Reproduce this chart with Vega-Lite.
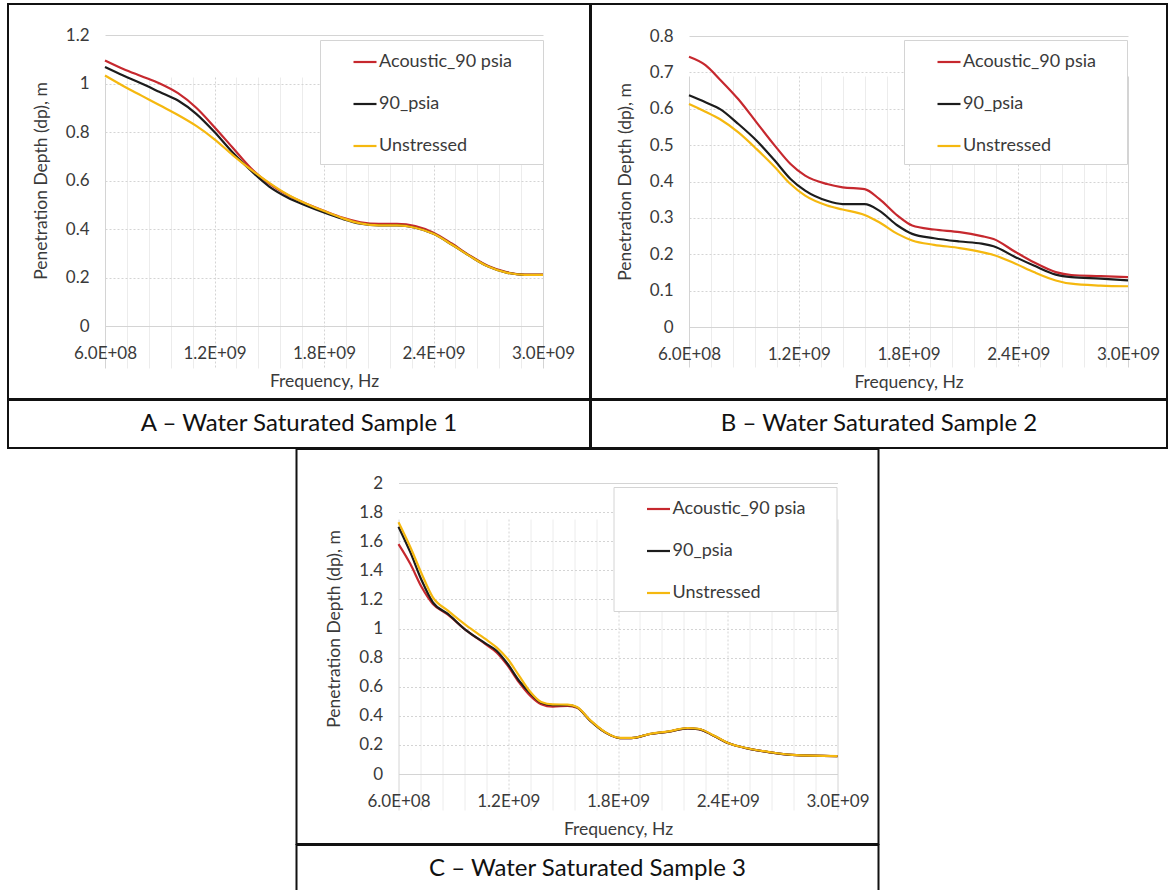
{
  "$schema": "https://vega.github.io/schema/vega-lite/v6.json",
  "background": "white",
  "padding": {"left": 7, "top": 3, "right": 0, "bottom": 0},
  "center": true,
  "spacing": -2,
  "resolve": {"scale": {"color": "independent"}, "legend": {"color": "independent"}},
  "config": {
    "font": "Lato",
    "view": {"stroke": "#111111", "strokeWidth": 2},
    "axis": {
      "labelFont": "Lato", "titleFont": "Lato",
      "labelFontSize": 17, "titleFontSize": 17.5, "titleFontWeight": "normal",
      "labelColor": "#3a3a3a", "titleColor": "#3a3a3a",
      "ticks": false, "domain": false, "grid": true,
      "labelOverlap": false, "labelFlush": false
    },
    "legend": {
      "labelFont": "Lato", "labelColor": "#3a3a3a", "labelFontSize": 18,
      "title": null, "orient": "none", "strokeColor": "#d4d4d4", "fillColor": "white",
      "padding": 9, "rowPadding": 20, "labelOffset": 24,
      "symbolType": "M1,0L3,0M16.3,0", "symbolSize": 529, "symbolStrokeWidth": 2.2
    },
    "text": {"font": "Lato"}
  },
  "datasets": {
    "A": [
      {"s": "Acoustic_90 psia", "f": 6e8, "dp": 1.095}, {"s": "Acoustic_90 psia", "f": 7e8, "dp": 1.06}, {"s": "Acoustic_90 psia", "f": 8e8, "dp": 1.03}, {"s": "Acoustic_90 psia", "f": 9e8, "dp": 1.0}, {"s": "Acoustic_90 psia", "f": 1.0e9, "dp": 0.96}, {"s": "Acoustic_90 psia", "f": 1.1e9, "dp": 0.9}, {"s": "Acoustic_90 psia", "f": 1.2e9, "dp": 0.82}, {"s": "Acoustic_90 psia", "f": 1.3e9, "dp": 0.735}, {"s": "Acoustic_90 psia", "f": 1.4e9, "dp": 0.65}, {"s": "Acoustic_90 psia", "f": 1.5e9, "dp": 0.587}, {"s": "Acoustic_90 psia", "f": 1.6e9, "dp": 0.54}, {"s": "Acoustic_90 psia", "f": 1.7e9, "dp": 0.505}, {"s": "Acoustic_90 psia", "f": 1.8e9, "dp": 0.475}, {"s": "Acoustic_90 psia", "f": 1.9e9, "dp": 0.447}, {"s": "Acoustic_90 psia", "f": 2.0e9, "dp": 0.428}, {"s": "Acoustic_90 psia", "f": 2.1e9, "dp": 0.421}, {"s": "Acoustic_90 psia", "f": 2.2e9, "dp": 0.421}, {"s": "Acoustic_90 psia", "f": 2.3e9, "dp": 0.412}, {"s": "Acoustic_90 psia", "f": 2.4e9, "dp": 0.385}, {"s": "Acoustic_90 psia", "f": 2.5e9, "dp": 0.34}, {"s": "Acoustic_90 psia", "f": 2.6e9, "dp": 0.29}, {"s": "Acoustic_90 psia", "f": 2.7e9, "dp": 0.247}, {"s": "Acoustic_90 psia", "f": 2.8e9, "dp": 0.222}, {"s": "Acoustic_90 psia", "f": 2.9e9, "dp": 0.212}, {"s": "Acoustic_90 psia", "f": 3.0e9, "dp": 0.212},
      {"s": "90_psia", "f": 6e8, "dp": 1.068}, {"s": "90_psia", "f": 7e8, "dp": 1.033}, {"s": "90_psia", "f": 8e8, "dp": 1.0}, {"s": "90_psia", "f": 9e8, "dp": 0.965}, {"s": "90_psia", "f": 1.0e9, "dp": 0.93}, {"s": "90_psia", "f": 1.1e9, "dp": 0.875}, {"s": "90_psia", "f": 1.2e9, "dp": 0.8}, {"s": "90_psia", "f": 1.3e9, "dp": 0.715}, {"s": "90_psia", "f": 1.4e9, "dp": 0.64}, {"s": "90_psia", "f": 1.5e9, "dp": 0.575}, {"s": "90_psia", "f": 1.6e9, "dp": 0.53}, {"s": "90_psia", "f": 1.7e9, "dp": 0.497}, {"s": "90_psia", "f": 1.8e9, "dp": 0.468}, {"s": "90_psia", "f": 1.9e9, "dp": 0.442}, {"s": "90_psia", "f": 2.0e9, "dp": 0.422}, {"s": "90_psia", "f": 2.1e9, "dp": 0.415}, {"s": "90_psia", "f": 2.2e9, "dp": 0.415}, {"s": "90_psia", "f": 2.3e9, "dp": 0.405}, {"s": "90_psia", "f": 2.4e9, "dp": 0.38}, {"s": "90_psia", "f": 2.5e9, "dp": 0.336}, {"s": "90_psia", "f": 2.6e9, "dp": 0.288}, {"s": "90_psia", "f": 2.7e9, "dp": 0.245}, {"s": "90_psia", "f": 2.8e9, "dp": 0.22}, {"s": "90_psia", "f": 2.9e9, "dp": 0.211}, {"s": "90_psia", "f": 3.0e9, "dp": 0.211},
      {"s": "Unstressed", "f": 6e8, "dp": 1.033}, {"s": "Unstressed", "f": 7e8, "dp": 0.99}, {"s": "Unstressed", "f": 8e8, "dp": 0.95}, {"s": "Unstressed", "f": 9e8, "dp": 0.91}, {"s": "Unstressed", "f": 1.0e9, "dp": 0.87}, {"s": "Unstressed", "f": 1.1e9, "dp": 0.825}, {"s": "Unstressed", "f": 1.2e9, "dp": 0.77}, {"s": "Unstressed", "f": 1.3e9, "dp": 0.705}, {"s": "Unstressed", "f": 1.4e9, "dp": 0.645}, {"s": "Unstressed", "f": 1.5e9, "dp": 0.59}, {"s": "Unstressed", "f": 1.6e9, "dp": 0.542}, {"s": "Unstressed", "f": 1.7e9, "dp": 0.505}, {"s": "Unstressed", "f": 1.8e9, "dp": 0.474}, {"s": "Unstressed", "f": 1.9e9, "dp": 0.445}, {"s": "Unstressed", "f": 2.0e9, "dp": 0.423}, {"s": "Unstressed", "f": 2.1e9, "dp": 0.415}, {"s": "Unstressed", "f": 2.2e9, "dp": 0.415}, {"s": "Unstressed", "f": 2.3e9, "dp": 0.405}, {"s": "Unstressed", "f": 2.4e9, "dp": 0.38}, {"s": "Unstressed", "f": 2.5e9, "dp": 0.336}, {"s": "Unstressed", "f": 2.6e9, "dp": 0.288}, {"s": "Unstressed", "f": 2.7e9, "dp": 0.245}, {"s": "Unstressed", "f": 2.8e9, "dp": 0.22}, {"s": "Unstressed", "f": 2.9e9, "dp": 0.211}, {"s": "Unstressed", "f": 3.0e9, "dp": 0.211}
    ],
    "B": [
      {"s": "Acoustic_90 psia", "f": 6e8, "dp": 0.743}, {"s": "Acoustic_90 psia", "f": 6.9e8, "dp": 0.72}, {"s": "Acoustic_90 psia", "f": 7.7e8, "dp": 0.68}, {"s": "Acoustic_90 psia", "f": 8.7e8, "dp": 0.626}, {"s": "Acoustic_90 psia", "f": 9.7e8, "dp": 0.562}, {"s": "Acoustic_90 psia", "f": 1.07e9, "dp": 0.498}, {"s": "Acoustic_90 psia", "f": 1.155e9, "dp": 0.448}, {"s": "Acoustic_90 psia", "f": 1.235e9, "dp": 0.416}, {"s": "Acoustic_90 psia", "f": 1.355e9, "dp": 0.393}, {"s": "Acoustic_90 psia", "f": 1.44e9, "dp": 0.384}, {"s": "Acoustic_90 psia", "f": 1.56e9, "dp": 0.379}, {"s": "Acoustic_90 psia", "f": 1.64e9, "dp": 0.352}, {"s": "Acoustic_90 psia", "f": 1.74e9, "dp": 0.306}, {"s": "Acoustic_90 psia", "f": 1.82e9, "dp": 0.279}, {"s": "Acoustic_90 psia", "f": 1.94e9, "dp": 0.268}, {"s": "Acoustic_90 psia", "f": 2.08e9, "dp": 0.261}, {"s": "Acoustic_90 psia", "f": 2.2e9, "dp": 0.25}, {"s": "Acoustic_90 psia", "f": 2.265e9, "dp": 0.242}, {"s": "Acoustic_90 psia", "f": 2.385e9, "dp": 0.206}, {"s": "Acoustic_90 psia", "f": 2.485e9, "dp": 0.178}, {"s": "Acoustic_90 psia", "f": 2.605e9, "dp": 0.151}, {"s": "Acoustic_90 psia", "f": 2.69e9, "dp": 0.143}, {"s": "Acoustic_90 psia", "f": 2.85e9, "dp": 0.14}, {"s": "Acoustic_90 psia", "f": 3.0e9, "dp": 0.137},
      {"s": "90_psia", "f": 6e8, "dp": 0.637}, {"s": "90_psia", "f": 6.9e8, "dp": 0.618}, {"s": "90_psia", "f": 7.7e8, "dp": 0.599}, {"s": "90_psia", "f": 8.7e8, "dp": 0.558}, {"s": "90_psia", "f": 9.7e8, "dp": 0.512}, {"s": "90_psia", "f": 1.07e9, "dp": 0.457}, {"s": "90_psia", "f": 1.155e9, "dp": 0.407}, {"s": "90_psia", "f": 1.235e9, "dp": 0.375}, {"s": "90_psia", "f": 1.355e9, "dp": 0.347}, {"s": "90_psia", "f": 1.44e9, "dp": 0.338}, {"s": "90_psia", "f": 1.56e9, "dp": 0.338}, {"s": "90_psia", "f": 1.64e9, "dp": 0.32}, {"s": "90_psia", "f": 1.74e9, "dp": 0.279}, {"s": "90_psia", "f": 1.82e9, "dp": 0.256}, {"s": "90_psia", "f": 1.94e9, "dp": 0.244}, {"s": "90_psia", "f": 2.08e9, "dp": 0.235}, {"s": "90_psia", "f": 2.2e9, "dp": 0.229}, {"s": "90_psia", "f": 2.265e9, "dp": 0.222}, {"s": "90_psia", "f": 2.385e9, "dp": 0.192}, {"s": "90_psia", "f": 2.485e9, "dp": 0.169}, {"s": "90_psia", "f": 2.605e9, "dp": 0.144}, {"s": "90_psia", "f": 2.69e9, "dp": 0.137}, {"s": "90_psia", "f": 2.85e9, "dp": 0.133}, {"s": "90_psia", "f": 3.0e9, "dp": 0.128},
      {"s": "Unstressed", "f": 6e8, "dp": 0.613}, {"s": "Unstressed", "f": 6.9e8, "dp": 0.592}, {"s": "Unstressed", "f": 7.7e8, "dp": 0.571}, {"s": "Unstressed", "f": 8.7e8, "dp": 0.535}, {"s": "Unstressed", "f": 9.7e8, "dp": 0.489}, {"s": "Unstressed", "f": 1.07e9, "dp": 0.439}, {"s": "Unstressed", "f": 1.155e9, "dp": 0.393}, {"s": "Unstressed", "f": 1.235e9, "dp": 0.361}, {"s": "Unstressed", "f": 1.355e9, "dp": 0.334}, {"s": "Unstressed", "f": 1.44e9, "dp": 0.323}, {"s": "Unstressed", "f": 1.56e9, "dp": 0.308}, {"s": "Unstressed", "f": 1.64e9, "dp": 0.288}, {"s": "Unstressed", "f": 1.74e9, "dp": 0.256}, {"s": "Unstressed", "f": 1.82e9, "dp": 0.238}, {"s": "Unstressed", "f": 1.94e9, "dp": 0.226}, {"s": "Unstressed", "f": 2.08e9, "dp": 0.217}, {"s": "Unstressed", "f": 2.2e9, "dp": 0.206}, {"s": "Unstressed", "f": 2.265e9, "dp": 0.198}, {"s": "Unstressed", "f": 2.385e9, "dp": 0.174}, {"s": "Unstressed", "f": 2.485e9, "dp": 0.151}, {"s": "Unstressed", "f": 2.605e9, "dp": 0.128}, {"s": "Unstressed", "f": 2.69e9, "dp": 0.119}, {"s": "Unstressed", "f": 2.85e9, "dp": 0.114}, {"s": "Unstressed", "f": 3.0e9, "dp": 0.112}
    ],
    "C": [
      {"s": "Acoustic_90 psia", "f": 6e8, "dp": 1.58}, {"s": "Acoustic_90 psia", "f": 6.65e8, "dp": 1.443}, {"s": "Acoustic_90 psia", "f": 7.27e8, "dp": 1.283}, {"s": "Acoustic_90 psia", "f": 7.88e8, "dp": 1.168}, {"s": "Acoustic_90 psia", "f": 8.7e8, "dp": 1.095}, {"s": "Acoustic_90 psia", "f": 9.72e8, "dp": 0.985}, {"s": "Acoustic_90 psia", "f": 1.075e9, "dp": 0.893}, {"s": "Acoustic_90 psia", "f": 1.136e9, "dp": 0.836}, {"s": "Acoustic_90 psia", "f": 1.197e9, "dp": 0.745}, {"s": "Acoustic_90 psia", "f": 1.259e9, "dp": 0.63}, {"s": "Acoustic_90 psia", "f": 1.32e9, "dp": 0.538}, {"s": "Acoustic_90 psia", "f": 1.38e9, "dp": 0.48}, {"s": "Acoustic_90 psia", "f": 1.443e9, "dp": 0.463}, {"s": "Acoustic_90 psia", "f": 1.525e9, "dp": 0.468}, {"s": "Acoustic_90 psia", "f": 1.576e9, "dp": 0.455}, {"s": "Acoustic_90 psia", "f": 1.648e9, "dp": 0.367}, {"s": "Acoustic_90 psia", "f": 1.73e9, "dp": 0.286}, {"s": "Acoustic_90 psia", "f": 1.811e9, "dp": 0.247}, {"s": "Acoustic_90 psia", "f": 1.873e9, "dp": 0.247}, {"s": "Acoustic_90 psia", "f": 1.975e9, "dp": 0.275}, {"s": "Acoustic_90 psia", "f": 2.077e9, "dp": 0.291}, {"s": "Acoustic_90 psia", "f": 2.18e9, "dp": 0.314}, {"s": "Acoustic_90 psia", "f": 2.24e9, "dp": 0.309}, {"s": "Acoustic_90 psia", "f": 2.323e9, "dp": 0.263}, {"s": "Acoustic_90 psia", "f": 2.405e9, "dp": 0.211}, {"s": "Acoustic_90 psia", "f": 2.507e9, "dp": 0.176}, {"s": "Acoustic_90 psia", "f": 2.63e9, "dp": 0.149}, {"s": "Acoustic_90 psia", "f": 2.752e9, "dp": 0.131}, {"s": "Acoustic_90 psia", "f": 3.0e9, "dp": 0.122},
      {"s": "90_psia", "f": 6e8, "dp": 1.7}, {"s": "90_psia", "f": 6.65e8, "dp": 1.523}, {"s": "90_psia", "f": 7.27e8, "dp": 1.33}, {"s": "90_psia", "f": 7.88e8, "dp": 1.18}, {"s": "90_psia", "f": 8.7e8, "dp": 1.1}, {"s": "90_psia", "f": 9.72e8, "dp": 0.985}, {"s": "90_psia", "f": 1.075e9, "dp": 0.898}, {"s": "90_psia", "f": 1.136e9, "dp": 0.847}, {"s": "90_psia", "f": 1.197e9, "dp": 0.756}, {"s": "90_psia", "f": 1.259e9, "dp": 0.641}, {"s": "90_psia", "f": 1.32e9, "dp": 0.555}, {"s": "90_psia", "f": 1.38e9, "dp": 0.49}, {"s": "90_psia", "f": 1.443e9, "dp": 0.474}, {"s": "90_psia", "f": 1.525e9, "dp": 0.474}, {"s": "90_psia", "f": 1.576e9, "dp": 0.458}, {"s": "90_psia", "f": 1.648e9, "dp": 0.367}, {"s": "90_psia", "f": 1.73e9, "dp": 0.286}, {"s": "90_psia", "f": 1.811e9, "dp": 0.247}, {"s": "90_psia", "f": 1.873e9, "dp": 0.247}, {"s": "90_psia", "f": 1.975e9, "dp": 0.275}, {"s": "90_psia", "f": 2.077e9, "dp": 0.291}, {"s": "90_psia", "f": 2.18e9, "dp": 0.314}, {"s": "90_psia", "f": 2.24e9, "dp": 0.309}, {"s": "90_psia", "f": 2.323e9, "dp": 0.263}, {"s": "90_psia", "f": 2.405e9, "dp": 0.211}, {"s": "90_psia", "f": 2.507e9, "dp": 0.176}, {"s": "90_psia", "f": 2.63e9, "dp": 0.149}, {"s": "90_psia", "f": 2.752e9, "dp": 0.131}, {"s": "90_psia", "f": 3.0e9, "dp": 0.122},
      {"s": "Unstressed", "f": 6e8, "dp": 1.73}, {"s": "Unstressed", "f": 6.65e8, "dp": 1.558}, {"s": "Unstressed", "f": 7.27e8, "dp": 1.375}, {"s": "Unstressed", "f": 7.88e8, "dp": 1.214}, {"s": "Unstressed", "f": 8.7e8, "dp": 1.123}, {"s": "Unstressed", "f": 9.72e8, "dp": 1.02}, {"s": "Unstressed", "f": 1.075e9, "dp": 0.928}, {"s": "Unstressed", "f": 1.136e9, "dp": 0.87}, {"s": "Unstressed", "f": 1.197e9, "dp": 0.79}, {"s": "Unstressed", "f": 1.259e9, "dp": 0.676}, {"s": "Unstressed", "f": 1.32e9, "dp": 0.565}, {"s": "Unstressed", "f": 1.38e9, "dp": 0.495}, {"s": "Unstressed", "f": 1.443e9, "dp": 0.478}, {"s": "Unstressed", "f": 1.525e9, "dp": 0.477}, {"s": "Unstressed", "f": 1.576e9, "dp": 0.46}, {"s": "Unstressed", "f": 1.648e9, "dp": 0.37}, {"s": "Unstressed", "f": 1.73e9, "dp": 0.288}, {"s": "Unstressed", "f": 1.811e9, "dp": 0.248}, {"s": "Unstressed", "f": 1.873e9, "dp": 0.248}, {"s": "Unstressed", "f": 1.975e9, "dp": 0.276}, {"s": "Unstressed", "f": 2.077e9, "dp": 0.293}, {"s": "Unstressed", "f": 2.18e9, "dp": 0.316}, {"s": "Unstressed", "f": 2.24e9, "dp": 0.311}, {"s": "Unstressed", "f": 2.323e9, "dp": 0.265}, {"s": "Unstressed", "f": 2.405e9, "dp": 0.212}, {"s": "Unstressed", "f": 2.507e9, "dp": 0.177}, {"s": "Unstressed", "f": 2.63e9, "dp": 0.15}, {"s": "Unstressed", "f": 2.752e9, "dp": 0.132}, {"s": "Unstressed", "f": 3.0e9, "dp": 0.123}
    ]
  },
  "vconcat": [
    {
      "spacing": -2,
      "resolve": {"scale": {"color": "independent"}, "legend": {"color": "independent"}},
      "hconcat": [
        {
          "spacing": -2,
          "resolve": {"scale": {"color": "independent"}, "legend": {"color": "independent"}},
          "vconcat": [
            {
              "width": 582, "height": 395,
              "data": {"name": "A"},
              "mark": {"type": "line", "interpolate": "monotone", "strokeWidth": 2.2},
              "encoding": {
                "x": {"field": "f", "type": "quantitative",
                  "scale": {"domain": [600000000, 3000000000], "range": [97, 535]},
                  "axis": {"title": "Frequency, Hz", "offset": -73, "labelPadding": 19, "titlePadding": 11,
                    "values": [600000000, 720000000, 840000000, 960000000, 1080000000, 1200000000, 1320000000, 1440000000, 1560000000, 1680000000, 1800000000, 1920000000, 2040000000, 2160000000, 2280000000, 2400000000, 2520000000, 2640000000, 2760000000, 2880000000, 3000000000],
                    "labelExpr": "datum.value % 600000000 === 0 ? upper(replace(format(datum.value, '.1e'), 'e+', 'E+0')) : ''",
                    "gridColor": {"condition": {"test": "datum.value % 600000000 !== 0", "value": "#ececec"}, "value": "#d4d4d4"},
                    "gridDash": {"condition": {"test": "datum.value % 600000000 === 0 && datum.value > 600000000 && datum.value < 3000000000", "value": [2, 2]}, "value": []}}},
                "y": {"field": "dp", "type": "quantitative",
                  "scale": {"domain": [0, 1.2], "range": [322, 31]},
                  "axis": {"title": "Penetration Depth (dp), m", "offset": -97, "labelPadding": 16, "titlePadding": 15,
                    "values": [0, 0.2, 0.4, 0.6, 0.8, 1, 1.2], "format": "~g",
                    "gridColor": "#d4d4d4",
                    "gridDash": {"condition": {"test": "datum.value > 0 && datum.value < 1.2", "value": [2, 2]}, "value": []}}},
                "color": {"field": "s", "type": "nominal",
                  "scale": {"domain": ["Acoustic_90 psia", "90_psia", "Unstressed"], "range": ["#c6282e", "#1c1c1c", "#f5b80f"]},
                  "legend": {"legendX": 312, "legendY": 36}}
              }
            },
            {
              "width": 582, "height": 48,
              "data": {"values": [{"caption": "A – Water Saturated Sample 1", "pos": 0.5}]},
              "mark": {"type": "text", "fontSize": 24, "color": "#111111", "baseline": "middle"},
              "encoding": {
                "x": {"field": "pos", "type": "quantitative", "scale": {"domain": [0, 1]}, "axis": null},
                "y": {"field": "pos", "type": "quantitative", "scale": {"domain": [0, 1]}, "axis": null},
                "text": {"field": "caption"}
              }
            }
          ]
        },
        {
          "spacing": -2,
          "resolve": {"scale": {"color": "independent"}, "legend": {"color": "independent"}},
          "vconcat": [
            {
              "width": 576, "height": 395,
              "data": {"name": "B"},
              "mark": {"type": "line", "interpolate": "monotone", "strokeWidth": 2.2},
              "encoding": {
                "x": {"field": "f", "type": "quantitative",
                  "scale": {"domain": [600000000, 3000000000], "range": [98, 537]},
                  "axis": {"title": "Frequency, Hz", "offset": -72, "labelPadding": 19, "titlePadding": 11,
                    "values": [600000000, 720000000, 840000000, 960000000, 1080000000, 1200000000, 1320000000, 1440000000, 1560000000, 1680000000, 1800000000, 1920000000, 2040000000, 2160000000, 2280000000, 2400000000, 2520000000, 2640000000, 2760000000, 2880000000, 3000000000],
                    "labelExpr": "datum.value % 600000000 === 0 ? upper(replace(format(datum.value, '.1e'), 'e+', 'E+0')) : ''",
                    "gridColor": {"condition": {"test": "datum.value % 600000000 !== 0", "value": "#ececec"}, "value": "#d4d4d4"},
                    "gridDash": {"condition": {"test": "datum.value % 600000000 === 0 && datum.value > 600000000 && datum.value < 3000000000", "value": [2, 2]}, "value": []}}},
                "y": {"field": "dp", "type": "quantitative",
                  "scale": {"domain": [0, 0.8], "range": [323, 32]},
                  "axis": {"title": "Penetration Depth (dp), m", "offset": -98, "labelPadding": 16, "titlePadding": 15,
                    "values": [0, 0.1, 0.2, 0.3, 0.4, 0.5, 0.6, 0.7, 0.8], "format": "~g",
                    "gridColor": "#d4d4d4",
                    "gridDash": {"condition": {"test": "datum.value > 0 && datum.value < 0.8", "value": [2, 2]}, "value": []}}},
                "color": {"field": "s", "type": "nominal",
                  "scale": {"domain": ["Acoustic_90 psia", "90_psia", "Unstressed"], "range": ["#c6282e", "#1c1c1c", "#f5b80f"]},
                  "legend": {"legendX": 313, "legendY": 36}}
              }
            },
            {
              "width": 576, "height": 48,
              "data": {"values": [{"caption": "B – Water Saturated Sample 2", "pos": 0.5}]},
              "mark": {"type": "text", "fontSize": 24, "color": "#111111", "baseline": "middle"},
              "encoding": {
                "x": {"field": "pos", "type": "quantitative", "scale": {"domain": [0, 1]}, "axis": null},
                "y": {"field": "pos", "type": "quantitative", "scale": {"domain": [0, 1]}, "axis": null},
                "text": {"field": "caption"}
              }
            }
          ]
        }
      ]
    },
    {
      "spacing": -2,
      "resolve": {"scale": {"color": "independent"}, "legend": {"color": "independent"}},
      "vconcat": [
        {
          "width": 582, "height": 395,
          "data": {"name": "C"},
          "mark": {"type": "line", "interpolate": "monotone", "strokeWidth": 2.2},
          "encoding": {
            "x": {"field": "f", "type": "quantitative",
              "scale": {"domain": [600000000, 3000000000], "range": [102, 541]},
              "axis": {"title": "Frequency, Hz", "offset": -70, "labelPadding": 19, "titlePadding": 11,
                "values": [600000000, 720000000, 840000000, 960000000, 1080000000, 1200000000, 1320000000, 1440000000, 1560000000, 1680000000, 1800000000, 1920000000, 2040000000, 2160000000, 2280000000, 2400000000, 2520000000, 2640000000, 2760000000, 2880000000, 3000000000],
                "labelExpr": "datum.value % 600000000 === 0 ? upper(replace(format(datum.value, '.1e'), 'e+', 'E+0')) : ''",
                "gridColor": {"condition": {"test": "datum.value % 600000000 !== 0", "value": "#ececec"}, "value": "#d4d4d4"},
                "gridDash": {"condition": {"test": "datum.value % 600000000 === 0 && datum.value > 600000000 && datum.value < 3000000000", "value": [2, 2]}, "value": []}}},
            "y": {"field": "dp", "type": "quantitative",
              "scale": {"domain": [0, 2], "range": [325, 34]},
              "axis": {"title": "Penetration Depth (dp), m", "offset": -102, "labelPadding": 16, "titlePadding": 15,
                "values": [0, 0.2, 0.4, 0.6, 0.8, 1, 1.2, 1.4, 1.6, 1.8, 2], "format": "~g",
                "gridColor": "#d4d4d4",
                "gridDash": {"condition": {"test": "datum.value > 0 && datum.value < 2", "value": [2, 2]}, "value": []}}},
            "color": {"field": "s", "type": "nominal",
              "scale": {"domain": ["Acoustic_90 psia", "90_psia", "Unstressed"], "range": ["#c6282e", "#1c1c1c", "#f5b80f"]},
              "legend": {"legendX": 317, "legendY": 38}}
          }
        },
        {
          "width": 582, "height": 48,
          "data": {"values": [{"caption": "C – Water Saturated Sample 3", "pos": 0.5}]},
          "mark": {"type": "text", "fontSize": 24, "color": "#111111", "baseline": "middle"},
          "encoding": {
            "x": {"field": "pos", "type": "quantitative", "scale": {"domain": [0, 1]}, "axis": null},
            "y": {"field": "pos", "type": "quantitative", "scale": {"domain": [0, 1]}, "axis": null},
            "text": {"field": "caption"}
          }
        }
      ]
    }
  ]
}
